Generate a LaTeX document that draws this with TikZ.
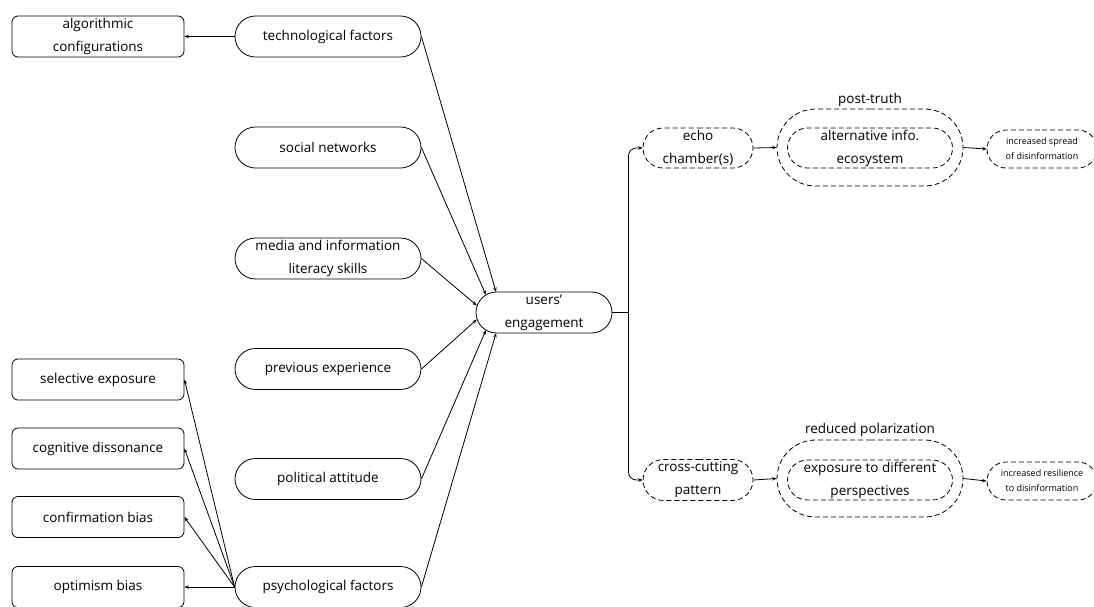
\documentclass[tikz,border=0pt]{standalone}
\usepackage{fontspec}
\setmainfont{Open Sans}
\usetikzlibrary{arrows.meta,calc,shapes.misc}
\begin{document}
\begin{tikzpicture}[x=1pt,y=-1pt,
  line width=0.8pt,
  arr/.style={-{Stealth[length=4.5pt,width=3.5pt]}},
  lbox/.style={draw, rounded corners=6pt, minimum width=172pt, minimum height=41pt, inner sep=0pt, align=center, font=\fontsize{13.5}{23}\selectfont},
  mnode/.style={draw, rounded rectangle, minimum width=186pt, minimum height=41pt, inner sep=0pt, align=center, font=\fontsize{13.5}{23}\selectfont},
  dnode/.style={draw, dash pattern=on 5pt off 3pt, rounded rectangle, minimum width=110pt, minimum height=40pt, inner sep=0pt, align=center, font=\fontsize{13.5}{23}\selectfont},
  souter/.style={draw, dash pattern=on 5pt off 3pt, rounded rectangle, minimum width=186pt, minimum height=77pt, inner sep=0pt},
  sinner/.style={draw, dash pattern=on 5pt off 3pt, rounded rectangle, minimum width=165pt, minimum height=40pt, inner sep=0pt, align=center, font=\fontsize{13.5}{23}\selectfont},
  small/.style={draw, dash pattern=on 5pt off 3pt, rounded rectangle, minimum width=110pt, minimum height=38pt, inner sep=0pt, align=center, font=\fontsize{9}{15}\selectfont},
  lab/.style={font=\fontsize{13.5}{15}\selectfont, inner sep=0pt}
]
\useasboundingbox (0,0) rectangle (1094,606);

% left boxes
\node[lbox] (alg)  at (98,36.5) {algorithmic\\configurations};
\node[lbox] (sel)  at (98,379.5) {selective exposure};
\node[lbox] (cog)  at (98,448.5) {cognitive dissonance};
\node[lbox] (conf) at (98,517) {confirmation bias};
\node[lbox] (opt)  at (98,587) {optimism bias};

% middle nodes
\node[mnode] (tech)   at (328,36.5) {technological factors};
\node[mnode] (soc)    at (328,147.5) {social networks};
\node[mnode] (media)  at (328,258.5) {media and information\\literacy skills};
\node[mnode] (prev)   at (328,369) {previous experience};
\node[mnode] (pol)    at (328,479) {political attitude};
\node[mnode] (psych)  at (328,587) {psychological factors};

% engagement
\node[mnode, minimum width=136pt] (eng) at (544,312.5) {users’\\engagement};

% right side
\node[dnode] (echo)  at (698,148) {echo\\chamber(s)};
\node[souter] (pto)  at (870,147.5) {};
\node[sinner] (pti)  at (870,148) {alternative info.\\ecosystem};
\node[lab] (ptlab)   at (870,100) {post-truth};
\node[small] (spread) at (1042,149) {increased spread\\of disinformation};

\node[dnode, minimum height=41pt] (cross) at (698,480) {cross-cutting\\pattern};
\node[souter] (rpo)  at (870,478.5) {};
\node[sinner] (rpi)  at (870,480) {exposure to different\\perspectives};
\node[lab] (rplab)   at (870,430) {reduced polarization};
\node[small] (resil) at (1042,481) {increased resilience\\to disinformation};

% connectors left
\draw[arr] (tech.west) -- (alg.east);
\draw[arr] (psych.west) -- (opt.east);
\draw[arr] (psych.west) -- (conf.east);
\draw[arr] (psych.west) -- (cog.east);
\draw[arr] (psych.west) -- (sel.east);

% connectors to engagement
\draw[arr] (tech.east)  -- ($(eng.west)+(20.5,-20.5)$);
\draw[arr] (soc.east)   -- ($(eng.west)+(10.25,-17.75)$);
\draw[arr] (media.east) -- ($(eng.west)+(1.2,-7)$);
\draw[arr] (prev.east)  -- ($(eng.west)+(1.2,7)$);
\draw[arr] (pol.east)   -- ($(eng.west)+(10.25,17.75)$);
\draw[arr] (psych.east) -- ($(eng.west)+(20.5,20.5)$);

% engagement to branches
\coordinate (j) at ($(eng.east)+(16,0)$);
\draw (eng.east) -- (j);
\draw[arr, rounded corners=8pt] (j) |- (echo.west);
\draw[arr, rounded corners=8pt] (j) |- (cross.west);

\draw[arr] (echo.east) -- (pto.west);
\draw[arr] (pto.east) -- (spread.west);
\draw[arr] (cross.east) -- (rpo.west);
\draw[arr] (rpo.east) -- (resil.west);
\end{tikzpicture}
\end{document}
